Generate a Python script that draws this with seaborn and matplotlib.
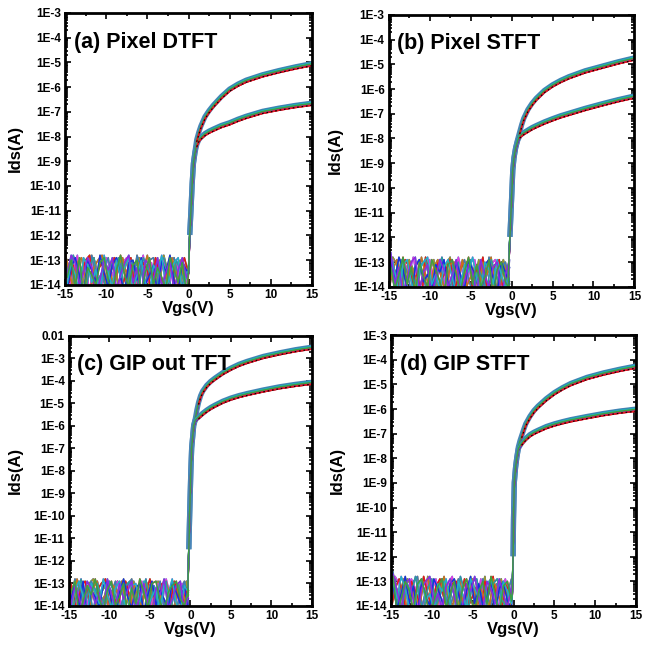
import numpy as np
import pandas as pd
import matplotlib
matplotlib.use('Agg')
import matplotlib.pyplot as plt
import matplotlib.ticker as mticker
import seaborn as sns

# off-state grids (V): two interleaved sweeps
vgs_off_a = [-15.0, -14.5, -14.0, -13.5, -13.0, -12.5, -12.0, -11.5, -11.0, -10.5,
             -10.0, -9.5, -9.0, -8.5, -8.0, -7.5, -7.0, -6.5, -6.0, -5.5,
             -5.0, -4.5, -4.0, -3.5, -3.0, -2.5, -2.0, -1.5, -1.0, -0.5]
vgs_off_b = [-14.75, -14.25, -13.75, -13.25, -12.75, -12.25, -11.75, -11.25, -10.75, -10.25,
             -9.75, -9.25, -8.75, -8.25, -7.75, -7.25, -6.75, -6.25, -5.75, -5.25,
             -4.75, -4.25, -3.75, -3.25, -2.75, -2.25, -1.75, -1.25, -0.75, -0.25]

# off-state noise traces (log10 A)
noise_0 = [-12.7, -13.4, -14.2, -13.1, -12.9, -13.8, -14.4, -13.3, -13.0, -12.8, -13.9, -13.5, -14.1, -13.2, -12.9,
           -13.6, -14.3, -14.0, -13.1, -13.4, -12.8, -13.7, -14.2, -13.0, -13.3, -13.9, -12.9, -13.5, -14.1, -13.2]
noise_1 = [-13.6, -12.8, -13.1, -14.0, -13.5, -12.9, -13.3, -14.4, -13.8, -13.0, -13.4, -12.9, -14.2, -13.6, -13.1,
           -12.8, -13.9, -13.3, -14.5, -13.0, -13.2, -13.8, -12.9, -14.1, -13.5, -13.0, -14.3, -13.4, -12.9, -13.7]
noise_2 = [-13.2, -14.1, -13.5, -12.8, -13.9, -13.2, -14.3, -13.0, -13.6, -14.0, -12.9, -13.3, -13.8, -14.4, -13.1,
           -12.9, -13.5, -14.2, -13.4, -12.8, -13.9, -13.1, -14.0, -13.6, -12.9, -14.4, -13.3, -13.0, -13.8, -14.1]
noise_3 = [-14.2, -13.3, -12.9, -13.6, -14.4, -13.0, -13.4, -13.9, -12.8, -13.5, -14.1, -13.2, -12.9, -13.7, -14.3,
           -13.1, -13.0, -13.8, -12.9, -14.0, -13.6, -13.2, -14.4, -13.0, -13.5, -12.8, -13.9, -14.2, -13.1, -13.4]
noise_4 = [-12.6, -13.9, -13.2, -14.3, -13.7, -13.0, -12.8, -14.1, -13.4, -13.1, -14.5, -13.6, -12.9, -13.3, -14.0,
           -13.5, -12.9, -14.2, -13.8, -13.1, -13.4, -14.3, -12.9, -13.6, -14.0, -13.2, -13.0, -14.4, -13.5, -12.9]
noise_5 = [-13.4, -12.9, -14.4, -13.8, -13.1, -13.5, -12.8, -13.7, -14.2, -13.3, -12.9, -14.0, -13.6, -13.0, -14.4,
           -13.2, -13.9, -12.8, -13.4, -14.1, -13.0, -12.9, -13.8, -14.3, -13.4, -13.1, -12.9, -13.7, -14.0, -13.3]
noise_6 = [-13.0, -13.7, -12.8, -13.3, -14.1, -14.4, -13.2, -12.9, -13.8, -13.5, -14.2, -13.1, -13.4, -12.9, -13.9,
           -14.3, -13.0, -13.5, -14.1, -12.9, -13.3, -13.7, -14.5, -13.1, -12.9, -13.6, -14.2, -13.0, -13.4, -13.9]
noise_7 = [-14.0, -13.1, -13.6, -14.3, -12.9, -13.2, -13.9, -13.4, -14.5, -12.8, -13.5, -14.1, -13.0, -13.7, -13.3,
           -12.9, -14.2, -13.6, -13.0, -13.9, -14.4, -13.2, -13.5, -12.8, -14.1, -13.7, -13.1, -12.9, -14.3, -13.5]
noise_8 = [-12.8, -14.3, -13.7, -13.0, -13.4, -14.2, -13.1, -12.9, -13.6, -14.4, -13.8, -13.2, -12.9, -14.1, -13.5,
           -13.0, -14.3, -13.3, -12.9, -13.7, -14.2, -13.4, -13.0, -13.9, -12.8, -13.5, -14.4, -13.2, -13.0, -13.8]
noise_9 = [-13.7, -13.0, -14.1, -12.9, -14.4, -13.3, -13.6, -14.0, -13.1, -12.9, -13.8, -14.3, -13.4, -12.8, -13.6,
           -14.1, -13.2, -13.0, -14.4, -13.5, -12.9, -14.0, -13.3, -13.7, -14.2, -12.9, -13.4, -13.9, -13.1, -14.3]
noise_traces = [noise_0, noise_1, noise_2, noise_3, noise_4, noise_5, noise_6, noise_7, noise_8, noise_9]

# turn-on and on-state (log10 A); hi = high Vds, lo = low Vds
vgs_on_a = [0.0, 0.15, 0.3, 0.45, 0.6, 0.8, 1.0, 1.25, 1.5, 2, 2.5, 3, 4, 5, 6, 7, 9, 11, 13, 15]
hi_a = [-13.5, -12.0, -11.0, -9.9, -9.1, -8.6, -8.15, -7.85, -7.6, -7.22, -6.97, -6.76, -6.4, -6.1, -5.9, -5.74,
        -5.52, -5.35, -5.2, -5.07]
lo_a = [-13.5, -12.0, -11.0, -9.9, -9.1, -8.65, -8.35, -8.15, -8.05, -7.9, -7.8, -7.72, -7.57, -7.46, -7.32, -7.2,
        -7.0, -6.87, -6.76, -6.67]

vgs_on_b = [-0.4, -0.2, 0.0, 0.15, 0.3, 0.5, 0.75, 1.0, 1.25, 1.5, 2, 2.5, 3, 4, 5, 6, 7, 9, 11, 13, 15]
hi_b = [-13.6, -12.0, -10.5, -9.3, -8.8, -8.4, -8.05, -7.75, -7.45, -7.2, -6.85, -6.6, -6.4, -6.08, -5.85, -5.67,
        -5.52, -5.28, -5.1, -4.92, -4.76]
lo_b = [-13.6, -12.0, -10.5, -9.3, -8.8, -8.4, -8.1, -7.92, -7.84, -7.78, -7.68, -7.58, -7.5, -7.35, -7.22, -7.1,
        -7.0, -6.8, -6.62, -6.45, -6.3]

vgs_on_c = [-0.35, -0.2, -0.1, 0.05, 0.15, 0.4, 0.6, 0.8, 1.0, 1.25, 1.5, 2, 2.5, 3, 4, 5, 6, 7, 9, 11, 13, 15]
hi_c = [-13.6, -11.5, -10.0, -8.0, -7.0, -6.0, -5.7, -5.3, -4.98, -4.68, -4.48, -4.22, -4.04, -3.9, -3.65, -3.45,
        -3.28, -3.15, -2.93, -2.77, -2.63, -2.52]
lo_c = [-13.6, -11.5, -10.0, -8.0, -7.0, -6.0, -5.75, -5.68, -5.62, -5.54, -5.46, -5.32, -5.2, -5.1, -4.92, -4.78,
        -4.67, -4.58, -4.42, -4.28, -4.17, -4.08]

vgs_on_d = [-0.15, -0.05, 0.0, 0.1, 0.25, 0.4, 0.6, 0.8, 1.0, 1.25, 1.5, 2, 2.5, 3, 4, 5, 6, 7, 9, 11, 13, 15]
hi_d = [-13.5, -12.0, -10.5, -9.0, -8.4, -8.0, -7.55, -7.3, -7.1, -6.85, -6.62, -6.32, -6.08, -5.9, -5.6, -5.35,
        -5.15, -4.98, -4.73, -4.55, -4.4, -4.27]
lo_d = [-13.5, -12.0, -10.5, -9.0, -8.4, -8.0, -7.62, -7.5, -7.4, -7.3, -7.21, -7.06, -6.96, -6.88, -6.73, -6.62,
        -6.53, -6.45, -6.32, -6.2, -6.1, -6.02]

titles = ['(a) Pixel DTFT', '(b) Pixel STFT', '(c) GIP out TFT', '(d) GIP STFT']
y_tops = [-3, -3, -2, -3]

# device-to-device spread (decades) and colours, top of band to bottom
dev_shift = [0.07, 0.055, 0.04, 0.025, 0.01, -0.005, -0.02, -0.035, -0.05, -0.065]
dev_colors = ['#3e7cb8', '#2a9d9d', '#20b2c8', '#9a9a2a', '#3fa040',
              '#c8741c', '#8a2be2', '#e03ce0', '#1530e0', '#e8141c']
draw_order = [3, 7, 0, 9, 5, 1, 8, 2, 6, 4]

panels = [(vgs_on_a, hi_a, lo_a), (vgs_on_b, hi_b, lo_b), (vgs_on_c, hi_c, lo_c), (vgs_on_d, hi_d, lo_d)]
positions = [[0.100, 0.559, 0.380, 0.421], [0.598, 0.556, 0.378, 0.421],
             [0.106, 0.062, 0.374, 0.418], [0.6015, 0.062, 0.377, 0.419]]
ylab_x = [-0.17, -0.187, -0.19, -0.188]

sns.set_style('ticks')
plt.rcParams['font.family'] = ['Liberation Sans', 'DejaVu Sans']
plt.rcParams['font.weight'] = 'bold'
plt.rcParams['axes.unicode_minus'] = False
for key in ['text.color', 'axes.labelcolor', 'xtick.color', 'ytick.color', 'axes.edgecolor']:
    plt.rcParams[key] = 'black'

fig = plt.figure(figsize=(6.5, 6.46), dpi=100)


def fmt_y(v, pos):
    e = int(round(np.log10(v)))
    return '0.01' if e == -2 else f'1E{e}'


for p, (vgs_on, hi, lo) in enumerate(panels):
    ax = fig.add_axes(positions[p])
    for b, branch in enumerate((hi, lo)):
        # steel-blue halo around the band
        halo = pd.DataFrame({'Vgs': vgs_on[1:], 'Ids': 10 ** (np.array(branch[1:]) + 0.02)})
        sns.lineplot(data=halo, x='Vgs', y='Ids', color='#4a86b8', lw=3.8, ax=ax, estimator=None,
                     solid_capstyle='butt')
    for b, branch in enumerate((hi, lo)):
        for d in draw_order:
            sh = dev_shift[d]
            noise = noise_traces[(d + 5 * b + 3 * p) % 10]
            grid = vgs_off_a if (d + b) % 2 == 0 else vgs_off_b
            x = list(grid) + list(vgs_on)
            y = list(noise) + list(np.array(branch) + sh)
            df = pd.DataFrame({'Vgs': x, 'Ids': 10 ** np.array(y)})
            sns.lineplot(data=df, x='Vgs', y='Ids', color=dev_colors[d], lw=1.1, ax=ax,
                         estimator=None, sort=False)
    for b, branch in enumerate((hi, lo)):
        # lowest device on the band: red with black dashes
        low = pd.DataFrame({'Vgs': vgs_on[-14:], 'Ids': 10 ** (np.array(branch[-14:]) + dev_shift[-1])})
        sns.lineplot(data=low, x='Vgs', y='Ids', color='#e8141c', lw=1.2, ax=ax, estimator=None)
        sns.lineplot(data=low, x='Vgs', y='Ids', color='black', lw=0.8, ax=ax, estimator=None,
                     dashes=False, linestyle=(0, (1.5, 2.5)))
    ax.set_yscale('log')
    ax.set_xlim(-15, 15)
    ax.set_ylim(1e-14, 10.0 ** y_tops[p])
    ax.set_xticks([-15, -10, -5, 0, 5, 10, 15])
    ax.xaxis.set_minor_locator(mticker.MultipleLocator(2.5))
    ax.yaxis.set_major_locator(mticker.LogLocator(base=10, numticks=20))
    ax.yaxis.set_minor_locator(mticker.LogLocator(base=10, subs=np.arange(2, 10), numticks=20))
    ax.yaxis.set_minor_formatter(mticker.NullFormatter())
    ax.yaxis.set_major_formatter(mticker.FuncFormatter(fmt_y))
    ax.tick_params(which='both', direction='in', top=True, right=True, width=1.2)
    ax.tick_params(which='major', length=4, labelsize=8.5, pad=3)
    ax.tick_params(which='minor', length=2.5)
    for lab in ax.get_xticklabels() + ax.get_yticklabels():
        lab.set_fontweight('bold')
    for s in ax.spines.values():
        s.set_linewidth(2)
        s.set_color('black')
    ax.set_xlabel('Vgs(V)', fontsize=12, fontweight='bold', labelpad=0)
    ax.set_ylabel('Ids(A)', fontsize=12, fontweight='bold')
    ax.yaxis.set_label_coords(ylab_x[p], 0.5)
    ax.text(0.035, 0.893, titles[p], transform=ax.transAxes, fontsize=15.5,
            fontweight='bold', va='center', ha='left')

fig.savefig('out.png', dpi=100)
